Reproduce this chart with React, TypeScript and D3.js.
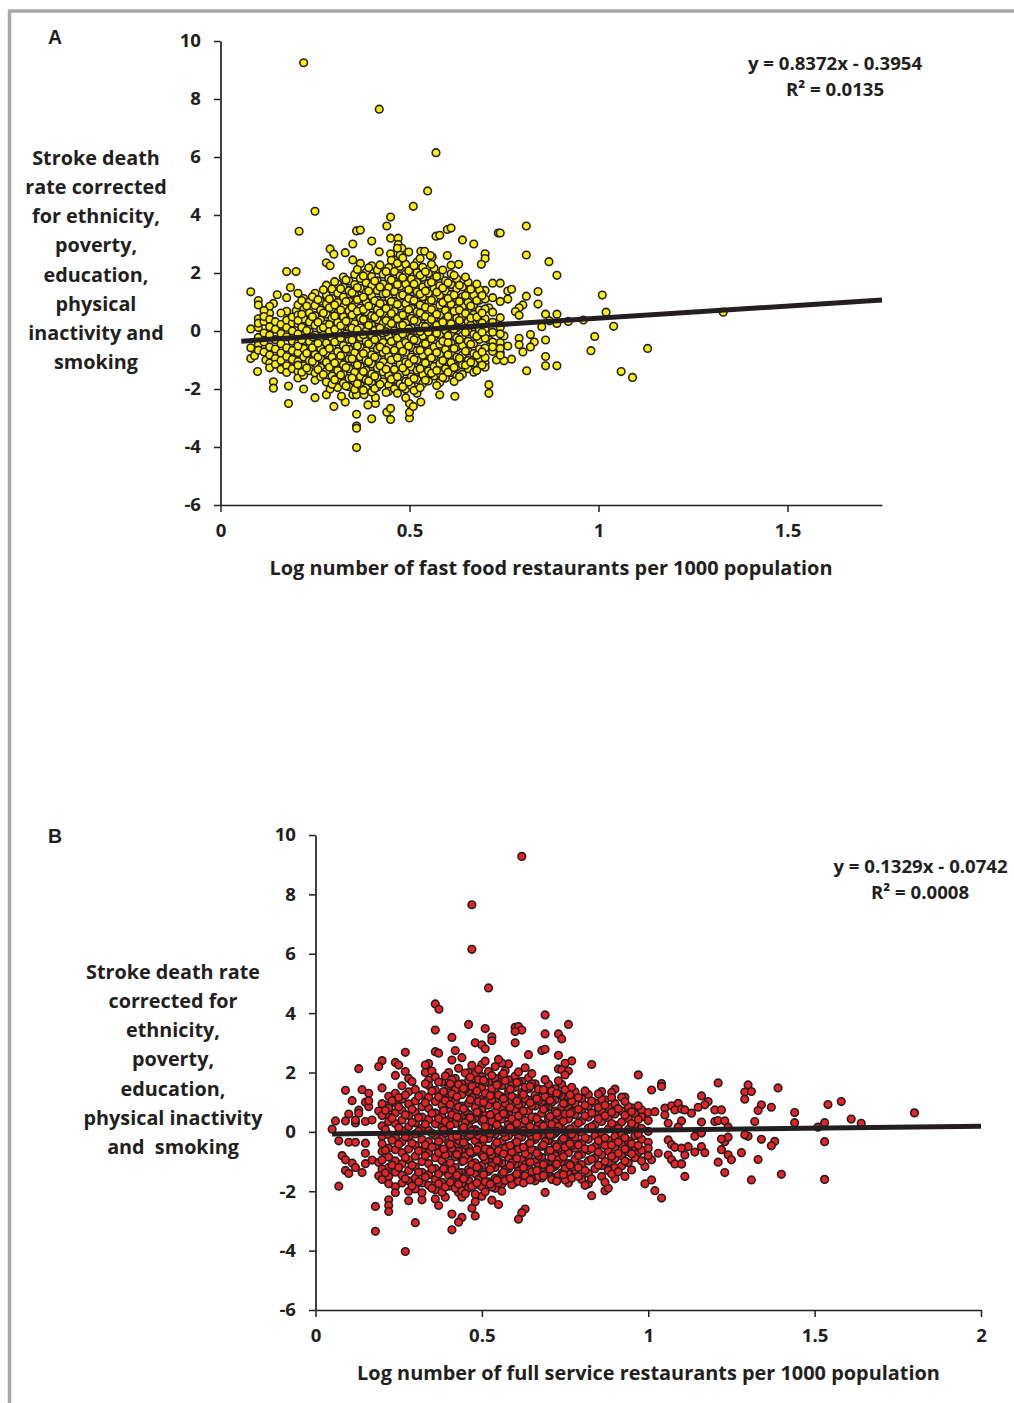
import React, { useEffect, useRef } from "react";
import * as d3 from "d3";

const INK = "#231f20";
const FONT = "'Open Sans', sans-serif";

// Panel A: isolated points
const fastFoodOutliers: [number, number][] = [
  [.22,9.25],[.42,7.65],[.57,6.15],[.548,4.83],[.51,4.3],[.25,4.13],[.208,3.44],[.45,3.93],[.44,3.62],[.36,3.45],[.37,3.48],[.57,3.27],[.58,3.3],[.6,3.5],[.61,3.55],[.64,3.14],[.67,3.0],[.735,3.38],[.40,3.1],[.35,3.0],[.45,3.2],[.47,3.2],[.47,2.98],[.48,2.85],[.29,2.83],[.30,2.65],[.28,2.35],[.29,2.25],[.33,2.7],[.35,2.45],[.42,2.73],[.45,2.66],[.37,2.33],[.40,2.25],[.53,2.75],[.54,2.75],[.56,2.55],[.555,2.6],[.60,2.6],[.70,2.66],[.70,2.5],[.69,2.3],[.61,2.27],[.63,2.3],[.175,2.05],[.20,2.05],[.185,1.5],[.08,1.35],[.10,1.05],[.10,.9],[.15,1.25],[.175,1.15],[.14,.95],[.13,.85],[.115,.55],[.13,.6],[.175,.68],[.2,.7],[.08,.07],
  [.08,-.58],[.08,-.95],[.09,-.85],[.098,-1.4],[.12,-1.0],[.13,-1.1],[.14,-1.75],[.14,-1.97],[.18,-1.9],[.18,-2.5],[.22,-2.0],[.25,-2.3],[.30,-2.6],[.33,-2.45],[.36,-2.87],[.36,-3.28],[.36,-3.35],[.36,-4.02],[.40,-3.03],[.44,-2.8],[.45,-2.67],[.45,-3.05],[.39,-2.55],[.41,-2.5],[.41,-2.3],[.50,-3.0],[.5,-2.8],[.5,-2.5],[.49,-2.3],[.51,-2.6],[.53,-2.45],[.58,-2.2],[.62,-2.25],[.71,-1.85],[.71,-2.15],[.52,-2.15],[.35,-2.2],[.36,-2.2],[.38,-2.2],[.32,-2.25],[.28,-2.2],[.29,-2.0],[.30,-1.75],[.31,-1.95],
  [.74,3.38],[.809,3.62],[.809,2.62],[.869,2.39],[.89,1.92],[1.01,1.24],[.84,1.36],[.84,.93],[.809,1.2],[.76,1.38],[.77,1.44],[.76,1.1],[.72,1.65],[.74,1.65],[.80,.9],[.79,.8],[.78,.67],[.86,.58],[.89,.58],[.79,.54],[.85,.15],[.87,.35],[.89,.26],[.92,.33],[.96,.38],[1.02,.65],[1.04,.16],[.99,-.19],[.98,-.68],[1.13,-.6],[1.06,-1.4],[1.09,-1.6],[1.33,.65],[.82,-.12],[.83,-.38],[.82,-.55],[.86,-.31],[.86,-.88],[.86,-1.2],[.89,-1.2],[.81,-1.37],[.77,-.97],[.75,-1.03],[.73,-1.0],[.80,-.72],[.79,-.25],[.79,-.47],[.76,-.52],[.74,-.4],[.74,-.75],[.75,-.17],[.71,-.3],[.70,-1.1],[.71,.8],[.70,1.4],[.69,1.3],
];

// Panel A: dense cloud, estimated column by column (x, then y values)
const fastFoodCloudX = [.1,.115,.13,.145,.16,.175,.19,.205,.22,.235,.25,.265,.28,.295,.31,.325,.34,.355,.37,.385,.4,.415,.43,.445,.46,.475,.49,.505,.52,.535,.55,.565,.58,.595,.61,.625,.64,.655,.67,.685,.7,.72,.74];
const fastFoodCloudY = [
  [.42,.12,-.22,-.47,-.66,.27],
  [.71,.33,-.07,-.38,-.72,.5],
  [.4,.15,-.15,-.55,-.83,-1.27],
  [.32,.06,-.3,-.62,-.95,-1.15],
  [.62,.23,-.09,-.44,-.76,-1.02,-1.32],
  [.37,.12,-.2,-.58,-.88,-1.2,-1.43],
  [.28,.0,-.35,-.67,-.98,-1.3,.48],
  [.9,.55,.25,-.1,-.42,-.75,-1.05,-1.4,-1.62],
  [1.12,.74,.41,.1,-.25,-.6,-.9,-1.2,-1.53],
  [1.0,.63,.31,-.03,-.36,-.72,-1.03,-1.37],
  [1.3,.88,.53,.2,-.14,-.47,-.8,-1.12,-1.45,-1.7],
  [1.03,.72,.38,.07,-.28,-.6,-.95,-1.26,-1.58],
  [1.58,1.24,.93,.58,.24,-.1,-.41,-.77,-1.08,-1.39,-1.76],
  [1.45,1.12,.76,.44,.12,-.23,-.56,-.9,-1.22,-1.55,-1.84],
  [1.62,1.3,.98,.63,.3,-.03,-.37,-.71,-1.04,-1.36,-1.68],
  [1.86,1.51,1.17,.83,.49,.18,-.16,-.5,-.84,-1.16,-1.48,-1.8],
  [1.72,1.39,1.03,.7,.36,.04,-.29,-.63,-.96,-1.3,-1.63,-1.92],
  [1.95,1.6,1.25,.92,.58,.25,-.08,-.43,-.75,-1.09,-1.42,-1.74,-2.02],
  [1.81,1.47,1.12,.79,.45,.11,-.22,-.56,-.89,-1.22,-1.57,-1.88],
  [2.02,1.66,1.33,1.0,.66,.32,-.01,-.35,-.68,-1.01,-1.35,-1.68,-1.96],
  [1.88,1.55,1.21,.87,.53,.2,-.14,-.47,-.82,-1.14,-1.48,-1.8,-2.1],
  [2.1,1.73,1.4,1.06,.74,.39,.06,-.27,-.61,-.94,-1.28,-1.62,-1.93],
  [1.96,1.62,1.28,.94,.6,.27,-.07,-.4,-.74,-1.07,-1.41,-1.75],
  [2.19,1.83,1.5,1.15,.81,.47,.14,-.19,-.53,-.87,-1.2,-1.53,-1.87,-2.08],
  [2.45,2.05,1.7,1.36,1.02,.68,.35,.01,-.33,-.66,-1.0,-1.33,-1.67,-1.99],
  [2.62,2.22,1.9,1.54,1.2,.86,.52,.19,-.15,-.48,-.82,-1.15,-1.49,-1.82],
  [2.3,1.97,1.62,1.28,.95,.61,.28,-.06,-.4,-.73,-1.07,-1.4,-1.74,-2.0],
  [2.14,1.79,1.45,1.11,.78,.44,.1,-.23,-.57,-.9,-1.24,-1.58,-1.9],
  [2.38,2.02,1.68,1.35,1.01,.67,.33,0,-.34,-.67,-1.01,-1.35,-1.67],
  [2.2,1.85,1.52,1.18,.84,.5,.17,-.17,-.5,-.84,-1.18,-1.5,-1.81],
  [1.98,1.64,1.3,.96,.63,.29,-.04,-.38,-.72,-1.05,-1.38,-1.72],
  [2.16,1.8,1.47,1.13,.79,.46,.12,-.21,-.55,-.88,-1.22,-1.55],
  [1.9,1.56,1.23,.89,.55,.22,-.12,-.46,-.79,-1.12,-1.46,-1.78],
  [1.73,1.38,1.04,.71,.37,.03,-.3,-.64,-.97,-1.3,-1.63],
  [1.97,1.6,1.26,.92,.59,.25,-.09,-.42,-.76,-1.09,-1.43],
  [1.8,1.46,1.12,.78,.45,.11,-.23,-.56,-.9,-1.23,-1.55],
  [1.52,1.18,.85,.51,.18,-.16,-.5,-.83,-1.16,-1.49],
  [1.68,1.33,.99,.65,.32,-.02,-.35,-.69,-1.02,-1.3],
  [1.24,.9,.57,.23,-.11,-.44,-.78,-1.1,-1.42],
  [1.42,1.06,.72,.38,.05,-.29,-.62,-.96],
  [1.1,.76,.42,.08,-.25,-.59,-.92,-1.25],
  [.65,.3,-.04,-.38,-.71,-.55,1.15],
  [.46,.12,-.1,-.6,-.84,1.02],
];

// Panel A: second pass over the cloud, in between the first columns
const fastFoodFillX = [.205,.215,.228,.243,.258,.272,.288,.302,.318,.332,.348,.362,.378,.392,.408,.422,.438,.452,.468,.482,.498,.512,.528,.542,.558,.572,.588,.602,.618,.632,.648,.662,.678,.692];
const fastFoodFillY = [
  [.36,-.52,1.3,-1.18],
  [.58,-.31,-1.42,.13,1.05],
  [.86,.02,-.77,-1.28],
  [.49,-.2,-1.05,1.18,-.58],
  [1.08,.3,-.42,-1.33,-.9],
  [1.42,.62,-.15,-.72,-1.5,.12],
  [1.1,.22,-.6,-1.25,.8,-.02],
  [1.7,.9,.05,-.38,-1.1,-1.68,.52],
  [1.46,.72,-.24,-.85,-1.52,.18],
  [1.76,1.02,.34,-.1,-.62,-1.26,-1.9],
  [1.32,.55,-.31,-.96,-1.62,.82,.1],
  [2.12,1.5,.68,.04,-.52,-1.17,-1.82,1.08],
  [1.9,1.17,.4,-.13,-.78,-1.4,-2.04,.74],
  [2.18,1.38,.86,.2,-.44,-1.06,-1.72],
  [1.72,1.04,.47,-.3,-.9,-1.56,-1.98,.02],
  [2.28,1.52,.62,.1,-.55,-1.2,-1.84,.95],
  [2.05,1.3,.78,-.03,-.66,-1.32,-2.12,.36],
  [2.44,1.76,1.02,.26,-.36,-1.0,-1.66,.6],
  [2.85,2.34,1.6,.92,.42,-.24,-.92,-1.58,-2.15],
  [2.52,1.84,1.24,.55,-.1,-.7,-1.28,-1.92,.2],
  [2.72,2.08,1.42,.74,.07,-.52,-1.12,-1.76,1.12],
  [2.25,1.62,1.05,.36,-.3,-.98,-1.64,-2.05],
  [2.5,1.92,1.28,.62,-.02,-.66,-1.3,-1.96,.9],
  [2.04,1.38,.82,.15,-.44,-1.1,-1.7,.5],
  [2.3,1.68,1.06,.4,-.27,-.93,-1.46,.74],
  [1.88,1.34,.58,-.08,-.74,-1.36,-1.88,.2],
  [2.1,1.48,.98,.3,-.35,-1.02,-1.6],
  [1.66,1.12,.5,-.16,-.82,-1.42,-.4],
  [1.92,1.24,.68,.06,-.6,-1.26,-1.74],
  [1.58,1.02,.36,-.3,-.94,-1.58,.72],
  [1.86,1.22,.6,-.05,-.7,-1.18],
  [1.44,.86,.2,-.46,-1.08,.45],
  [1.62,1.05,.48,-.18,-.84,-1.36],
  [1.22,.62,-.04,-.72,-1.18,.28],
];

// Panel B: isolated points
const fullServiceOutliers: [number, number][] = [
  [.62,9.28],[.47,7.65],[.47,6.15],[.52,4.85],[.36,4.31],[.371,4.13],[.36,3.43],[.41,3.18],[.46,3.62],[.51,3.48],[.53,3.2],[.53,3.07],[.48,3.0],[.50,2.93],[.51,2.8],[.6,3.52],[.61,3.55],[.62,3.43],[.6,3.38],[.6,3.0],[.69,3.94],[.76,3.62],[.69,3.3],[.73,3.3],[.74,3.13],[.68,2.74],[.69,2.78],[.64,2.6],[.73,2.58],[.83,2.27],[.77,2.39],[.75,2.31],[.73,2.12],[.74,2.09],[.76,2.05],[.75,1.92],[.63,2.16],[.58,2.29],[.27,2.68],[.13,2.13],[.2,2.4],[.19,2.2],[.24,2.34],[.25,2.25],[.27,2.03],[.28,1.8],[.24,1.9],[.09,1.4],[.14,1.42],[.2,1.48],[.16,1.3],[.11,1.05],[.36,2.7],[.37,2.65],[.42,2.74],[.44,2.5],[.41,2.42],[.34,2.3],[.33,2.25],[.33,2.0],[.35,2.05],[.34,1.75],
  [.07,-1.83],[.18,-2.51],[.18,-3.35],[.27,-4.03],[.30,-3.06],[.22,-2.29],[.22,-2.48],[.22,-2.68],[.28,-2.32],[.32,-2.29],[.36,-2.26],[.37,-2.48],[.39,-2.2],[.43,-2.04],[.44,-2.2],[.41,-2.77],[.41,-3.3],[.44,-2.88],[.43,-3.04],[.47,-2.57],[.48,-2.35],[.48,-2.83],[.5,-2.17],[.53,-2.3],[.55,-2.45],[.63,-2.6],[.62,-2.72],[.61,-2.94],[.69,-2.04],[.83,-2.15],[.87,-1.98],[.88,-1.9],
  [.08,-.8],[.09,-.94],[.11,-1.05],[.12,-1.2],[.09,-1.3],[.1,-1.4],[.14,-1.37],[.15,-.72],[.15,-1.07],[.17,-.95],[.19,-1.03],[.19,-1.48],[.22,-1.2],[.2,-.66],[.07,-.3],[.1,-.35],[.12,-.35],[.15,-.38],[.05,.09],[.06,.37],[.09,.37],[.1,.6],[.12,.3],[.12,.4],[.13,.73],[.13,.63],[.15,.35],[.17,.4],[.15,1],[.16,.85],[.16,1.05],[.19,.7],[.21,.9],[.22,.5],
  [1.80,.64],[1.58,1.02],[1.54,.92],[1.64,.29],[1.61,.43],[1.53,.31],[1.51,.16],[1.53,-.33],[1.53,-1.6],[1.44,.65],[1.44,.31],[1.39,1.48],[1.37,.83],[1.34,.91],[1.33,.72],[1.32,.35],[1.30,1.58],[1.29,1.34],[1.31,1.36],[1.29,1.1],[1.21,1.65],[1.38,-.32],[1.37,-.47],[1.34,-.25],[1.30,-.15],[1.29,-.1],[1.33,-.93],[1.40,-1.43],[1.31,-1.62],[1.28,-.7],[1.23,-1.37],[1.21,-1.02],[1.24,-.77],[1.25,-.94],[1.22,-.6],[1.23,-.33],[1.24,-.18],[1.22,-.24],[1.2,.74],[1.22,.74],[1.2,.35],[1.21,.38],[1.23,.37],[1.24,.16],[1.16,1.21],[1.18,1.02],[1.17,.91],[1.15,.83],[1.16,.33],[1.13,.63],[1.14,-.15],[1.16,-.04],[1.16,-.5],[1.17,-.7],[1.14,-.68],[1.12,-.5],[1.11,-.78],[1.1,-1.08],[1.11,-1.5],[1.04,-2.23],[1.02,-1.98],[1.01,-1.62],[.99,-1.75],[.99,-1.17],[.93,-1.5],[.9,-1.58],[.97,1.92],[1.01,1.41],[1.04,1.63],[1.04,1.53],[.9,1.44],[.89,1.33],[.86,1.36],[.93,1.17],[.92,1.17],[.87,1.08],[.87,.88],[.95,.81],[.98,.74],[1.0,.65],[1.02,.68],[1.05,.8],[1.07,.88],[1.09,.96],[1.08,.74],[1.1,.77],[1.11,.74],[1.05,.57],[1.06,.29],[1.1,.37],[1.09,.16],[1.06,-.27],[1.07,-.43],[1.08,-.52],[1.1,-.55],[1.06,-.78],[1.07,-.94],[1.08,-1.08],[1.1,-1.08],[1.03,-.72],[1.01,-.94],[.97,-.7],
];

// Panel B: dense cloud, estimated column by column (x, then y values)
const fullServiceCloudX = [.2,.22,.24,.26,.28,.3,.32,.34,.36,.38,.4,.42,.44,.46,.48,.5,.52,.54,.56,.58,.6,.62,.64,.66,.68,.7,.72,.74,.76,.78,.8,.82,.84,.86,.88,.9,.92,.94,.96,.98,1.0];
const fullServiceCloudY = [
  [.95,.55,.2,-.15,-.4,-.95,-1.25,-1.6],
  [1.2,.8,.35,-.1,-.55,-.85,-1.5,-1.75],
  [1.3,.98,.64,.28,-.16,-.6,-.98,-1.36,-1.85,-2.05],
  [1.55,1.1,.72,.4,.04,-.33,-.7,-1.08,-1.46,-1.72],
  [1.35,.94,.55,.18,-.2,-.58,-.94,-1.3,-1.65,-2.0],
  [1.43,1.04,.66,.3,-.07,-.45,-.82,-1.18,-1.55,-1.92],
  [1.25,.85,.5,.12,-.26,-.62,-1.0,-1.36,-1.72,-2.05],
  [1.56,1.17,.8,.42,.05,-.33,-.7,-1.07,-1.44,-1.8],
  [1.85,1.4,1.02,.64,.27,-.12,-.5,-.87,-1.24,-1.6,-1.95],
  [1.67,1.28,.9,.52,.15,-.22,-.6,-.97,-1.33,-1.7,-2.03],
  [2.0,1.55,1.15,.77,.4,.02,-.36,-.73,-1.1,-1.47,-1.83],
  [1.8,1.42,1.04,.66,.28,-.09,-.47,-.84,-1.2,-1.57,-1.9],
  [1.62,1.25,.87,.5,.12,-.25,-.62,-1.0,-1.37,-1.75,-1.98],
  [2.0,1.73,1.35,.97,.6,.22,-.15,-.53,-.9,-1.27,-1.63,-1.9],
  [1.95,1.58,1.2,.83,.45,.08,-.3,-.67,-1.04,-1.41,-1.78,-2.1],
  [2.27,1.86,1.48,1.1,.73,.35,-.02,-.4,-.77,-1.13,-1.5,-1.85],
  [2.03,1.66,1.28,.9,.53,.16,-.22,-.59,-.96,-1.33,-1.68],
  [2.2,1.8,1.42,1.05,.67,.3,-.08,-.45,-.82,-1.2,-1.56,-1.9],
  [2.32,1.9,1.56,1.18,.8,.43,.06,-.32,-.69,-1.06,-1.42,-1.76,-2.0],
  [1.75,1.38,1.0,.62,.25,-.13,-.5,-.87,-1.24,-1.6],
  [1.88,1.5,1.13,.75,.38,0,-.37,-.74,-1.1,-1.48,-1.7],
  [1.7,1.32,.95,.57,.2,-.18,-.55,-.92,-1.28,-1.62],
  [1.82,1.45,1.07,.7,.32,-.05,-.42,-.8,-1.17,-1.53],
  [1.62,1.24,.87,.5,.12,-.26,-.63,-1.0,-1.37,-1.65],
  [1.38,1.0,.63,.26,-.12,-.49,-.86,-1.23,-1.55],
  [1.6,1.2,.83,.45,.08,-.3,-.67,-1.04,-1.42],
  [1.45,1.08,.7,.33,-.05,-.42,-.8,-1.16,-1.53],
  [1.6,1.22,.85,.47,.1,-.28,-.65,-1.02,-1.38],
  [1.18,.8,.43,.05,-.33,-.7,-1.07,-1.4,-1.72],
  [1.35,.95,.58,.2,-.18,-.55,-.92,-1.28],
  [1.12,.74,.37,-.01,-.38,-.75,-1.1,-1.6],
  [1.26,.86,.5,.13,-.25,-.62,-.98,-1.4,-1.75],
  [.98,.62,.25,-.13,-.5,-.87,-1.24],
  [1.1,.72,.35,-.02,-.4,-.77,-1.14,-1.5],
  [.83,.47,.1,-.28,-.65,-1.02,-1.3],
  [.95,.6,.22,-.15,-.52,-.9,-1.2],
  [.7,.33,-.05,-.42,-.8,-1.15],
  [.85,.45,.08,-.3,-.67,-1.04],
  [.6,.25,-.13,-.5,-.87],
  [.5,.12,-.25,-.62,-.98],
  [.38,.02,-.35,-.55,-.8],
];

// Panel B: second pass over the cloud, in between the first columns
const fullServiceFillX = [.21,.23,.25,.27,.29,.31,.33,.35,.37,.39,.41,.43,.45,.47,.49,.51,.53,.55,.57,.59,.61,.63,.65,.67,.69,.71,.73,.75,.77,.79,.81,.83,.85,.87,.89,.91,.93,.95,.97];
const fullServiceFillY = [
  [.72,.08,-.62,-1.38],
  [1.05,.46,-.28,-1.12],
  [.84,.14,-.42,-1.2,1.16],
  [1.24,.58,-.16,-.86,-1.58],
  [1.7,.76,.32,-.38,-1.12,-1.82],
  [1.2,.48,.02,-.64,-1.36,-1.68],
  [1.62,.98,.26,-.44,-.8,-1.52],
  [1.38,.62,-.05,-.52,-1.24,-1.9],
  [1.68,1.18,.44,-.32,-.7,-1.42,-1.74],
  [1.88,1.06,.35,-.04,-.78,-1.16,-1.86],
  [1.76,1.28,.58,-.17,-.55,-1.28,-1.64],
  [2.14,1.6,.84,.46,-.29,-.66,-1.38,-1.76],
  [1.98,1.44,.7,.31,-.43,-.82,-1.52,-2.08],
  [2.24,1.54,1.16,.41,.04,-.72,-1.1,-1.84],
  [2.1,1.76,1.02,.64,-.12,-.49,-1.22,-1.6],
  [2.38,1.68,1.3,.55,.18,-.57,-.94,-1.68,-2.02],
  [1.9,1.46,1.08,.36,-.04,-.78,-1.14,-1.86],
  [2.44,1.62,1.24,.5,.12,-.63,-1.0,-1.72],
  [2.06,1.72,.96,.58,-.17,-.54,-1.28,-1.64],
  [1.56,1.2,.44,.08,-.68,-1.04,-1.78],
  [2.02,1.68,.92,.54,-.2,-.58,-1.32,-1.66],
  [1.5,1.12,.38,0,-.73,-1.1,-1.48],
  [1.96,1.62,.88,.5,-.24,-.6,-1.34,-1.58],
  [1.44,1.06,.32,-.06,-.8,-1.16,-1.5],
  [1.76,1.18,.8,.06,-.32,-1.06,-1.42],
  [1.38,1.0,.26,-.12,-.86,-1.22,-1.6],
  [1.72,1.28,.54,.18,-.56,-.94,-1.48],
  [1.42,.96,.6,-.16,-.52,-1.24,-1.62],
  [1.5,1.04,.68,-.08,-.46,-1.18,-1.56],
  [1.16,.76,.3,-.44,-.8,-1.5,-1.2],
  [1.38,.9,.54,-.2,-.57,-1.3,-1.8],
  [1.04,.64,.18,-.56,-.92,-1.58],
  [1.28,.82,.44,-.3,-.68,-1.12],
  [.9,.54,-.2,-.46,-1.0,-1.7],
  [1.16,.66,.28,-.44,-.82,-1.42],
  [.78,.12,-.34,-.72,-1.34],
  [1.02,.56,-.2,-.58,-.98],
  [.68,.28,-.4,-.74,-1.28],
  [.88,.42,-.07,-.46],
];

// Panel B: third pass over the densest part of the cloud
const fullServiceCoreX = [.385,.405,.425,.445,.465,.485,.505,.525,.545,.565,.585,.605,.625,.645,.665,.685,.705,.725,.745,.765];
const fullServiceCoreY = [
  [1.36,.72,.06,-.58,-1.24],
  [1.62,.92,.22,-.42,-1.04,-1.7],
  [1.18,.5,-.14,-.76,-1.46],
  [1.46,.78,.16,-.36,-.98,-1.58],
  [1.84,1.08,.48,-.1,-.68,-1.34],
  [1.38,.66,.02,-.6,-1.18,-1.72],
  [1.74,1.0,.42,-.24,-.84,-1.44],
  [1.22,.58,-.06,-.66,-1.26,-1.76],
  [1.58,.88,.24,-.36,-.96,-1.62],
  [1.96,1.12,.62,-.02,-.74,-1.36],
  [1.44,.82,.14,-.46,-1.14,-1.56],
  [1.66,1.04,.28,-.34,-.9,-1.42],
  [1.26,.7,.04,-.52,-1.2,-1.72],
  [1.54,.98,.18,-.38,-1.02,-1.62],
  [1.12,.44,-.16,-.72,-1.3],
  [1.42,.76,.2,-.44,-1.1,-1.48],
  [1.06,.52,-.1,-.62,-1.26],
  [1.3,.64,.02,-.5,-1.08,-1.66],
  [.96,.36,-.22,-.84,-1.44],
  [1.24,.62,.1,-.4,-1.12],
];

const toPoints = (xs: number[], ys: number[][]) =>
  xs.flatMap((x, i) => ys[i].map((y): [number, number] => [x, y]));

const fastFoodPoints: [number, number][] = [
  ...fastFoodOutliers,
  ...toPoints(fastFoodCloudX, fastFoodCloudY),
  ...toPoints(fastFoodFillX, fastFoodFillY),
];
const fullServicePoints: [number, number][] = [
  ...fullServiceOutliers,
  ...toPoints(fullServiceCloudX, fullServiceCloudY),
  ...toPoints(fullServiceFillX, fullServiceFillY),
  ...toPoints(fullServiceCoreX, fullServiceCoreY),
];

const yTicks = [-6, -4, -2, 0, 2, 4, 6, 8, 10];
const fastXTicks = [0, 0.5, 1, 1.5];
const fullXTicks = [0, 0.5, 1, 1.5, 2];

const fastTrend: [number, number][] = [[.055, .8372 * .055 - .3954], [1.75, .8372 * 1.75 - .3954]];
const fullTrend: [number, number][] = [[.05, .1329 * .05 - .0742], [2, .1329 * 2 - .0742]];

const fastYLabel = ["Stroke death", "rate corrected", "for ethnicity,", "poverty,", "education,", "physical", "inactivity and", "smoking"];
const fullYLabel = ["Stroke death rate", "corrected for", "ethnicity,", "poverty,", "education,", "physical inactivity", "and  smoking"];

type PanelSpec = {
  letter: string; letterY: number;
  x0: number; x1: number; dMax: number; y0: number; y1: number;
  xTicks: number[]; points: [number, number][]; trend: [number, number][];
  fill: string; xLabel: string; xLabelX: number; xLabelY: number;
  yLabel: string[]; yLabelX: number; yLabelY: number;
  eq: string; r2: string; eqX: number; eqY: number; r2X: number; r2Y: number;
};

const panels: PanelSpec[] = [
  { letter: "A", letterY: 44, x0: 220.5, x1: 882, dMax: 1.75, y0: 505, y1: 41, xTicks: fastXTicks, points: fastFoodPoints, trend: fastTrend, fill: "#fff200",
    xLabel: "Log number of fast food restaurants per 1000 population", xLabelX: 551, xLabelY: 575,
    yLabel: fastYLabel, yLabelX: 96, yLabelY: 165, eq: "y = 0.8372x - 0.3954", r2: "R² = 0.0135", eqX: 835, eqY: 70, r2X: 835, r2Y: 96 },
  { letter: "B", letterY: 843, x0: 315.5, x1: 981, dMax: 2, y0: 1310, y1: 835, xTicks: fullXTicks, points: fullServicePoints, trend: fullTrend, fill: "#ed2024",
    xLabel: "Log number of full service restaurants per 1000 population", xLabelX: 648.5, xLabelY: 1380,
    yLabel: fullYLabel, yLabelX: 173, yLabelY: 979, eq: "y = 0.1329x - 0.0742", r2: "R² = 0.0008", eqX: 920.5, eqY: 873, r2X: 920, r2Y: 899 },
];

export default function App() {
  const ref = useRef<SVGSVGElement>(null);
  useEffect(() => {
    const svg = d3.select(ref.current!);
    svg.selectAll("*").remove();
    svg.append("path").attr("d", "M9.5 1403V11H1014").attr("fill", "none").attr("stroke", "#a7a9ac").attr("stroke-width", 3.5);

    for (const p of panels) {
      const x = d3.scaleLinear().domain([0, p.dMax]).range([p.x0, p.x1]);
      const y = d3.scaleLinear().domain([-6, 10]).range([p.y0, p.y1]);
      const g = svg.append("g");

      const styleAxis = (a: any) => {
        a.selectAll("path").attr("stroke", INK).attr("stroke-width", 1.7);
        a.selectAll("line").attr("stroke", INK).attr("stroke-width", 1.5);
        a.selectAll("text").attr("fill", INK).attr("font-family", FONT).attr("font-weight", 700).attr("font-size", 18.6);
      };
      const yAxis = g.append("g").attr("transform", `translate(${p.x0},0)`)
        .call(d3.axisLeft(y).tickValues(yTicks).tickSize(6.5).tickSizeOuter(0).tickPadding(13).tickFormat((d) => String(d)));
      styleAxis(yAxis);
      const xAxis = g.append("g").attr("transform", `translate(0,${p.y0})`)
        .call(d3.axisBottom(x).tickValues(p.xTicks).tickSize(7).tickSizeOuter(0).tickPadding(11.5).tickFormat((d) => String(d)));
      styleAxis(xAxis);

      g.append("g").selectAll("circle").data(p.points).join("circle")
        .attr("cx", (d) => x(d[0])).attr("cy", (d) => y(d[1])).attr("r", 3.8)
        .attr("fill", p.fill).attr("stroke", INK).attr("stroke-width", 1.6);

      g.append("path").attr("d", d3.line<[number, number]>().x((d) => x(d[0])).y((d) => y(d[1]))(p.trend)!)
        .attr("stroke", INK).attr("stroke-width", 5).attr("fill", "none");

      const text = (s: string, tx: number, ty: number, size: number, family = FONT) =>
        g.append("text").text(s).attr("x", tx).attr("y", ty).attr("text-anchor", "middle")
          .attr("font-family", family).attr("font-weight", 700).attr("font-size", size).attr("fill", INK)
          .style("white-space", "pre");

      text(p.letter, 55, p.letterY, 19.5, "'Liberation Sans', sans-serif");
      text(p.xLabel, p.xLabelX, p.xLabelY, 19.9);
      p.yLabel.forEach((l, i) => text(l, p.yLabelX, p.yLabelY + i * 29.15, 19.8));
      text(p.eq, p.eqX, p.eqY, 18.6);
      text(p.r2, p.r2X, p.r2Y, 18.6);
    }
  }, []);
  return <svg ref={ref} width={1014} height={1403} style={{ position: "absolute", left: 0, top: 0, background: "#fff" }} />;
}
